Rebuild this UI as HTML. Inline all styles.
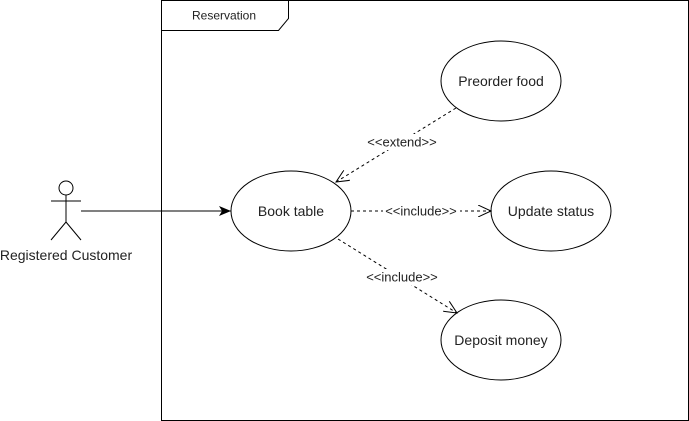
<!DOCTYPE html>
<html><head><meta charset="utf-8"><style>
html,body{margin:0;padding:0;background:#fff;font-family:"Liberation Sans",Arial,sans-serif;}
svg{display:block;}
text{font-family:"Liberation Sans",Arial,sans-serif;fill:#222;}
</style></head><body>
<svg width="689" height="421" viewBox="0 0 689 421" xmlns="http://www.w3.org/2000/svg" font-family="Liberation Sans, Arial, sans-serif">
<defs>
<marker id="fill" viewBox="0 0 12 10" refX="12" refY="5" markerWidth="12" markerHeight="10" markerUnits="userSpaceOnUse" orient="auto"><path d="M0,0 L12,5 L0,10 L3,5 Z" fill="#000"/></marker>
<marker id="open" viewBox="0 0 14 12" refX="13" refY="6" markerWidth="14" markerHeight="12" markerUnits="userSpaceOnUse" orient="auto"><path d="M0,0 L13,6 L0,12" fill="none" stroke="#000" stroke-width="1"/></marker>
</defs>
<rect x="161.5" y="0.5" width="527" height="420" fill="none" stroke="#000"/>
<path d="M161.5,30.5 H278.5 L288.5,18.5 V0.5" fill="none" stroke="#000"/>
<text x="224" y="19.5" font-size="12" text-anchor="middle">Reservation</text>

<circle cx="66" cy="188" r="7" fill="#fff" stroke="#000"/>
<path d="M66,195 V222 M51,201 H81 M66,222 L51,240 M66,222 L81,240" stroke="#000" fill="none"/>
<text x="66" y="260" font-size="14" text-anchor="middle">Registered Customer</text>

<line x1="81" y1="211" x2="231" y2="211" stroke="#000" marker-end="url(#fill)"/>

<ellipse cx="291" cy="211" rx="60" ry="40" fill="#fff" stroke="#000"/>
<text x="291" y="216" font-size="14" text-anchor="middle">Book table</text>
<ellipse cx="501" cy="81" rx="60" ry="40" fill="#fff" stroke="#000"/>
<text x="501" y="86" font-size="14" text-anchor="middle">Preorder food</text>
<ellipse cx="551" cy="211" rx="60" ry="40" fill="#fff" stroke="#000"/>
<text x="551" y="216" font-size="14" text-anchor="middle">Update status</text>
<ellipse cx="501" cy="340" rx="60" ry="40" fill="#fff" stroke="#000"/>
<text x="501" y="345" font-size="14" text-anchor="middle">Deposit money</text>

<line x1="456" y1="108" x2="336" y2="182" stroke="#000" stroke-dasharray="3,3" marker-end="url(#open)"/>
<rect x="364" y="134" width="76" height="16" fill="#fff"/>
<text x="402" y="146.5" font-size="13" text-anchor="middle">&lt;&lt;extend&gt;&gt;</text>

<line x1="351" y1="211" x2="491" y2="211" stroke="#000" stroke-dasharray="3,3" marker-end="url(#open)"/>
<rect x="383" y="203" width="77" height="16" fill="#fff"/>
<text x="421" y="215.5" font-size="13" text-anchor="middle">&lt;&lt;include&gt;&gt;</text>

<line x1="338" y1="239" x2="457" y2="313" stroke="#000" stroke-dasharray="3,3" marker-end="url(#open)"/>
<rect x="364" y="269" width="77" height="16" fill="#fff"/>
<text x="402" y="281.5" font-size="13" text-anchor="middle">&lt;&lt;include&gt;&gt;</text>
</svg>
</body></html>
